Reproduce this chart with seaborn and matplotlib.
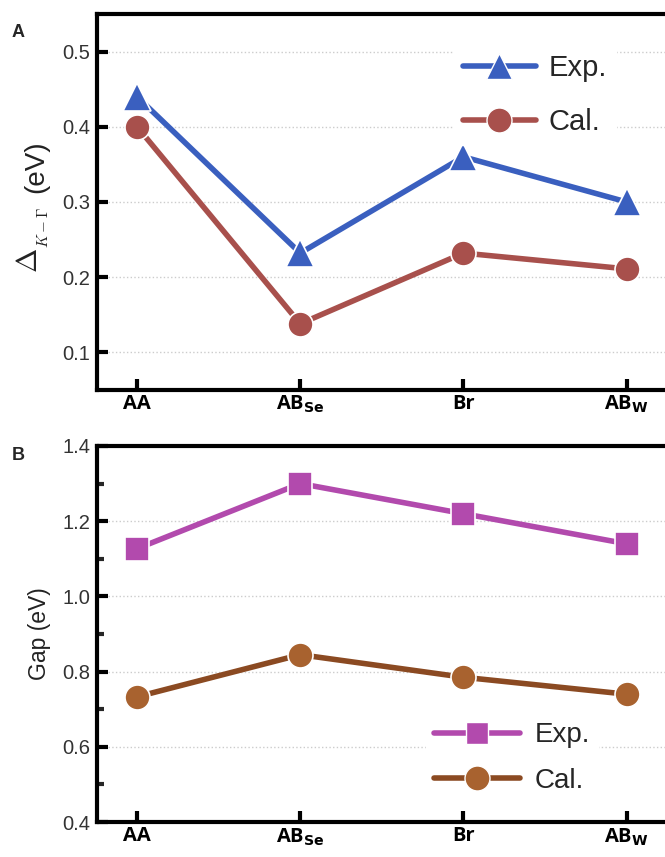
import matplotlib
matplotlib.use("Agg")
import matplotlib.pyplot as plt
import seaborn as sns
import pandas as pd
import numpy as np
from matplotlib.ticker import MultipleLocator
from matplotlib.lines import Line2D

# ---- data ----
stackings = ["AA", "ABSe", "Br", "ABW"]
tick_labels = ["AA", r"AB$_{\mathbf{Se}}$", "Br", r"AB$_{\mathbf{W}}$"]
delta_exp = [0.44, 0.232, 0.36, 0.30]
delta_cal = [0.40, 0.138, 0.232, 0.211]
gap_exp = [1.127, 1.30, 1.22, 1.14]
gap_cal = [0.733, 0.845, 0.785, 0.740]

sns.set_theme(style="white")
plt.rcParams["font.family"] = ["Liberation Sans", "DejaVu Sans"]
plt.rcParams["mathtext.fontset"] = "dejavusans"

W, H = 665, 857
fig = plt.figure(figsize=(6.65, 8.57), dpi=100)
axA = fig.add_axes([0.146, 0.545, 0.86, 0.4387])
axB = fig.add_axes([0.146, 0.0408, 0.86, 0.4388])

pos = list(range(len(stackings)))

def draw(ax, vals, color, mcolor, marker, ms, label):
    df = pd.DataFrame({"x": pos, "y": vals})
    sns.lineplot(data=df, x="x", y="y", ax=ax, color=color, lw=4,
                 marker=marker, markersize=ms, markerfacecolor=mcolor,
                 markeredgecolor="white", markeredgewidth=1.2, label=label,
                 sort=False, legend=False)

blue = "#3a5fbf"
redbrown = "#a8504c"
magenta = "#b24aad"
brown = "#8b4a22"
brown_m = "#a8622f"

draw(axA, delta_exp, blue, blue, "^", 20, "Exp.")
draw(axA, delta_cal, redbrown, redbrown, "o", 18, "Cal.")
draw(axB, gap_exp, magenta, magenta, "s", 17, "Exp.")
draw(axB, gap_cal, brown, brown_m, "o", 18, "Cal.")

for ax in (axA, axB):
    ax.set_xlim(-0.245, 3.26)
    ax.set_xticks(pos)
    ax.set_xticklabels(tick_labels, fontsize=15, fontweight="bold",
                       family=["Open Sans", "DejaVu Sans"])
    ax.set_xlabel("")
    for s in ("left", "bottom", "top"):
        ax.spines[s].set_linewidth(3)
        ax.spines[s].set_color("black")
    ax.spines["right"].set_visible(False)
    ax.tick_params(axis="both", which="major", direction="in", length=8, width=3,
                   colors="black", labelsize=14.5, left=True, bottom=True)
    ax.tick_params(axis="y", pad=5)
    ax.tick_params(axis="x", pad=3)
    ax.yaxis.grid(True, color="#cccccc", linestyle=":", linewidth=1.0)
    ax.set_axisbelow(True)
    for t in ax.get_yticklabels():
        t.set_color("#333333")

axA.set_ylim(0.05, 0.55)
axA.set_yticks([0.1, 0.2, 0.3, 0.4, 0.5])
axA.set_yticklabels(["0.1", "0.2", "0.3", "0.4", "0.5"])
axA.set_ylabel("")
# y label of panel A: big Delta, small subscript, then (eV)
fig.text(29 / W, 1 - 273 / H, r"$\Delta$", rotation=90, fontsize=21,
         math_fontfamily="cm", ha="center", va="bottom", color="#222222")
fig.text(43 / W, 1 - 248 / H, r"$K-\Gamma$", rotation=90, fontsize=11,
         math_fontfamily="cm", ha="center", va="bottom", color="#222222")
fig.text(36 / W, 1 - 140 / H, "(eV)", rotation=90, fontsize=20,
         ha="center", va="top", color="#222222")

axB.set_ylim(0.4, 1.4)
axB.set_yticks([0.4, 0.6, 0.8, 1.0, 1.2, 1.4])
axB.set_yticklabels(["0.4", "0.6", "0.8", "1.0", "1.2", "1.4"])
axB.yaxis.set_minor_locator(MultipleLocator(0.1))
axB.tick_params(axis="y", which="minor", direction="in", length=5, width=3, left=True)
axB.set_ylabel("Gap (eV)", fontsize=16.5, labelpad=8, color="#222222")

def legend(ax, items, loc, anchor, fs, hl, ls, tp):
    handles = [Line2D([], [], color=c, lw=4, marker=m, markersize=ms,
                      markerfacecolor=mc, markeredgecolor="white", markeredgewidth=1.0)
               for c, mc, m, ms in items]
    leg = ax.legend(handles, ["Exp.", "Cal."], loc=loc, bbox_to_anchor=anchor,
                    frameon=True, framealpha=1, facecolor="white", edgecolor="white",
                    fontsize=fs, handlelength=hl, handletextpad=tp,
                    labelspacing=ls, borderpad=0.3, borderaxespad=0)
    return leg

legend(axA, [(blue, blue, "^", 19), (redbrown, redbrown, "o", 18)],
       "upper left", (0.624, 0.917), 21, 2.5, 0.9, 0.45)
legend(axB, [(magenta, magenta, "s", 16), (brown, brown_m, "o", 18)],
       "lower left", (0.575, 0.053), 20, 3.1, 0.7, 0.5)

fig.text(0.018, 0.962, "A", fontsize=13, fontweight="bold", va="center")
fig.text(0.018, 0.469, "B", fontsize=13, fontweight="bold", va="center")

fig.savefig("out.png", dpi=100)
